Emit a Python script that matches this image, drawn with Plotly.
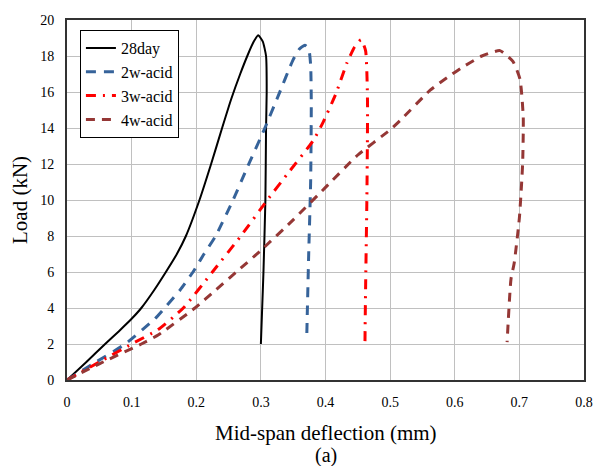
import plotly.graph_objects as go

# 28day
x_28 = [0, 0.03, 0.059, 0.08, 0.1, 0.115, 0.135, 0.153, 0.17, 0.184, 0.205, 0.223, 0.240, 0.254, 0.268, 0.279, 0.289, 0.296, 0.303, 0.308, 0.309, 0.308, 0.307, 0.304, 0.302, 0.300]
y_28 = [0, 1.0, 2.0, 2.7, 3.4, 4.0, 5.0, 6.0, 7.0, 8.0, 10.0, 12.0, 14.0, 15.6, 17.0, 18.0, 18.8, 19.15, 18.8, 18.0, 16.0, 14.0, 10.0, 6.0, 4.0, 2.0]
# 2w-acid
x_2w = [0, 0.045, 0.09, 0.136, 0.151, 0.175, 0.195, 0.212, 0.23, 0.257, 0.28, 0.305, 0.327, 0.35, 0.36, 0.368, 0.374, 0.377, 0.378, 0.377, 0.374, 0.372, 0.371]
y_2w = [0, 1.0, 2.0, 3.4, 4.0, 5.0, 6.0, 7.0, 8.0, 10.0, 11.9, 13.9, 15.8, 17.8, 18.4, 18.6, 18.4, 17.5, 15.4, 11.0, 7.0, 4.0, 2.4]
# 3w-acid
x_3w = [0, 0.05, 0.1, 0.141, 0.18, 0.225, 0.269, 0.31, 0.34, 0.381, 0.396, 0.416, 0.433, 0.445, 0.455, 0.462, 0.465, 0.464, 0.462, 0.461]
y_3w = [0, 1.0, 2.0, 2.8, 4.0, 6.0, 8.0, 10.0, 11.4, 13.3, 14.3, 15.9, 17.6, 18.5, 18.9, 18.3, 15.5, 10.0, 5.0, 1.9]
# 4w-acid
x_4w = [0, 0.05, 0.115, 0.141, 0.198, 0.23, 0.262, 0.3, 0.35, 0.4, 0.45, 0.5, 0.515, 0.562, 0.588, 0.613, 0.642, 0.67, 0.69, 0.701, 0.706, 0.705, 0.7, 0.692, 0.687, 0.681]
y_4w = [0, 0.9, 2.0, 2.5, 4.0, 5.0, 6.0, 7.2, 8.9, 10.7, 12.5, 13.9, 14.4, 16.1, 16.8, 17.4, 18.0, 18.3, 17.7, 16.7, 14.6, 12.0, 9.0, 6.5, 5.6, 2.1]

x_ticks = [0, 0.1, 0.2, 0.3, 0.4, 0.5, 0.6, 0.7, 0.8]
x_tick_labels = ["0", "0.1", "0.2", "0.3", "0.4", "0.5", "0.6", "0.7", "0.8"]
y_ticks = [0, 2, 4, 6, 8, 10, 12, 14, 16, 18, 20]

FONT = "Liberation Serif"

fig = go.Figure()
fig.add_trace(go.Scatter(x=x_28, y=y_28, mode="lines", name="28day",
                         line=dict(color="black", width=2, shape="spline", smoothing=0.5)))
fig.add_trace(go.Scatter(x=x_2w, y=y_2w, mode="lines", name="2w-acid",
                         line=dict(color="#36639A", width=3, dash="10px,8px", shape="spline", smoothing=0.5)))
fig.add_trace(go.Scatter(x=x_3w, y=y_3w, mode="lines", name="3w-acid",
                         line=dict(color="#FF0000", width=3, dash="10px,7px,2px,7px", shape="spline", smoothing=0.5)))
fig.add_trace(go.Scatter(x=x_4w, y=y_4w, mode="lines", name="4w-acid",
                         line=dict(color="#953735", width=3, dash="9px,7px", shape="spline", smoothing=0.5)))

fig.update_layout(
    width=596, height=466,
    margin=dict(l=67, r=12, t=20, b=86, autoexpand=False),
    paper_bgcolor="white", plot_bgcolor="white",
    font=dict(family=FONT, color="black", size=14),
    showlegend=True,
    legend=dict(x=0.025, y=0.972, xanchor="left", yanchor="top",
                bordercolor="black", borderwidth=1, bgcolor="white",
                font=dict(family=FONT, size=16, color="black"),
                tracegroupgap=0),
    xaxis=dict(range=[0, 0.8], tickvals=x_ticks, ticktext=x_tick_labels,
               showgrid=True, gridcolor="#C0C0C0", gridwidth=1,
               showline=True, linecolor="#333333", linewidth=2, mirror=True,
               ticks="", zeroline=False, automargin=False, ticklabelstandoff=8,
               ticklabeloverflow="allow",
               tickfont=dict(family=FONT, size=14, color="black")),
    yaxis=dict(range=[0, 20], tickvals=y_ticks,
               showgrid=True, gridcolor="#C0C0C0", gridwidth=1,
               showline=True, linecolor="#333333", linewidth=2, mirror=True,
               ticks="", zeroline=False, automargin=False, ticklabelstandoff=8,
               ticklabeloverflow="allow",
               tickfont=dict(family=FONT, size=14, color="black")),
)
fig.add_annotation(text="Load (kN)", x=-0.091, y=0.5, xref="paper", yref="paper",
                   showarrow=False, xanchor="center", yanchor="middle", textangle=-90,
                   font=dict(family=FONT, size=21, color="black"))
fig.add_annotation(text="Mid-span deflection (mm)", x=0.5, y=-0.108, xref="paper", yref="paper",
                   showarrow=False, xanchor="center", yanchor="top",
                   font=dict(family=FONT, size=21, color="black"))
fig.add_annotation(text="(a)", x=0.5, y=-0.172, xref="paper", yref="paper",
                   showarrow=False, xanchor="center", yanchor="top",
                   font=dict(family=FONT, size=20, color="black"))

# remove the default 8px page margin so the 596x466 figure fills the window exactly
fig.write_html("out.html", config={"displayModeBar": False},
               post_script="document.body.style.margin='0';document.body.style.overflow='hidden';")
